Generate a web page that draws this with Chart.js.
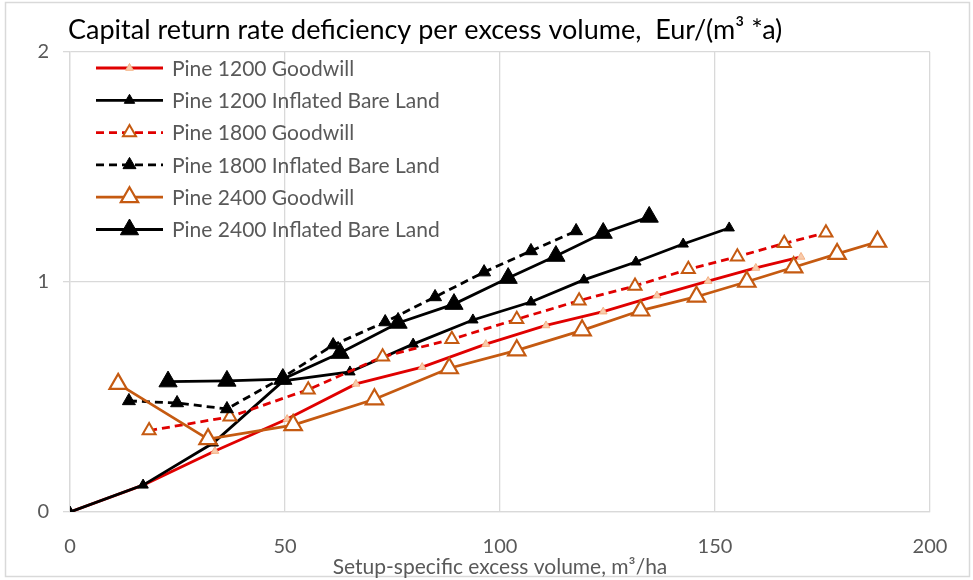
<!DOCTYPE html>
<html>
<head>
<meta charset="utf-8">
<title>Capital return rate deficiency per excess volume</title>
<script src="https://cdn.jsdelivr.net/npm/chart.js@4"></script>
<style>
  html, body { margin: 0; padding: 0; background: #ffffff; }
  #wrap { width: 973px; height: 580px; }
</style>
</head>
<body>
<div id="wrap"><canvas id="chart" width="973" height="580"></canvas></div>
<script>
// Setup-specific excess volume (m³/ha) and deficiency (Eur/(m³·a)) per setup
const pine1200GoodwillX = [0, 17.0, 33.7, 50.5, 66.5, 81.9, 96.7, 110.7, 124.0, 136.5, 148.4, 159.5, 170.0];
const pine1200GoodwillY = [0, 0.117, 0.265, 0.404, 0.557, 0.630, 0.730, 0.811, 0.871, 0.941, 1.004, 1.061, 1.109];

const pine1200BareLandX = [0, 17.0, 33.3, 49.6, 65.1, 79.8, 93.7, 107.2, 119.5, 131.6, 142.6, 153.3];
const pine1200BareLandY = [0, 0.117, 0.300, 0.570, 0.609, 0.730, 0.835, 0.913, 1.009, 1.087, 1.165, 1.235];

const pine1800GoodwillX = [18.4, 37.2, 55.4, 72.7, 88.8, 103.9, 118.4, 131.4, 143.8, 155.2, 166.1, 175.8];
const pine1800GoodwillY = [0.354, 0.414, 0.532, 0.675, 0.751, 0.838, 0.919, 0.983, 1.055, 1.110, 1.168, 1.214];

const pine1800BareLandX = [13.7, 24.9, 36.5, 49.3, 61.2, 73.3, 84.9, 96.3, 107.2, 117.7];
const pine1800BareLandY = [0.483, 0.474, 0.448, 0.583, 0.726, 0.826, 0.935, 1.043, 1.135, 1.222];

const pine2400GoodwillX = [11.2, 32.1, 51.9, 70.8, 88.2, 103.9, 119.1, 132.7, 145.7, 157.4, 168.3, 178.4, 187.8];
const pine2400GoodwillY = [0.557, 0.317, 0.378, 0.490, 0.625, 0.703, 0.790, 0.876, 0.936, 1.001, 1.064, 1.122, 1.175];

const pine2400BareLandX = [22.8, 36.5, 49.5, 62.8, 76.3, 89.3, 101.9, 113.0, 124.0, 134.7];
const pine2400BareLandY = [0.567, 0.570, 0.578, 0.691, 0.822, 0.904, 1.017, 1.113, 1.213, 1.283];

const seriesNames = [
  'Pine 1200 Goodwill',
  'Pine 1200 Inflated Bare Land',
  'Pine 1800 Goodwill',
  'Pine 1800 Inflated Bare Land',
  'Pine 2400 Goodwill',
  'Pine 2400 Inflated Bare Land'
];

const xTicks = [0, 50, 100, 150, 200];
const yTicks = [0, 1, 2];

const titleText = 'Capital return rate deficiency per excess volume,  Eur/(m\u00B3 *a)';
const xAxisTitle = 'Setup-specific excess volume, m\u00B3/ha';

const FONT = 'Lato, "Open Sans", "Noto Sans", sans-serif';
const GREY_TEXT = '#595959';
const GRID = '#d9d9d9';

function pairs(xs, ys) {
  return xs.map((x, i) => ({ x: x, y: ys[i] }));
}

const styles = [
  { color: '#e00000', dash: [], fill: '#f8cbad', edge: '#f4b183', r: 4.5, bw: 1 },
  { color: '#000000', dash: [], fill: '#000000', edge: '#000000', r: 6, bw: 1 },
  { color: '#e00000', dash: [8, 5], fill: '#ffffff', edge: '#c55a11', r: 7.5, bw: 2 },
  { color: '#000000', dash: [8, 5], fill: '#000000', edge: '#000000', r: 7.5, bw: 1 },
  { color: '#c55a11', dash: [], fill: '#ffffff', edge: '#c55a11', r: 10, bw: 2.2 },
  { color: '#000000', dash: [], fill: '#000000', edge: '#000000', r: 10.5, bw: 1 }
];

const seriesData = [
  pairs(pine1200GoodwillX, pine1200GoodwillY),
  pairs(pine1200BareLandX, pine1200BareLandY),
  pairs(pine1800GoodwillX, pine1800GoodwillY),
  pairs(pine1800BareLandX, pine1800BareLandY),
  pairs(pine2400GoodwillX, pine2400GoodwillY),
  pairs(pine2400BareLandX, pine2400BareLandY)
];

const datasets = seriesData.map((pts, i) => ({
  label: seriesNames[i],
  data: pts,
  showLine: true,
  tension: 0,
  borderColor: styles[i].color,
  borderWidth: 2.8,
  borderDash: styles[i].dash,
  pointStyle: 'triangle',
  pointRadius: styles[i].r,
  pointHoverRadius: styles[i].r,
  pointBackgroundColor: styles[i].fill,
  pointBorderColor: styles[i].edge,
  pointBorderWidth: styles[i].bw,
  order: seriesNames.length - i
}));

// Outer frame and chart title
const framePlugin = {
  id: 'frame',
  beforeDraw(chart) {
    const ctx = chart.ctx;
    ctx.save();
    ctx.fillStyle = '#ffffff';
    ctx.fillRect(0, 0, chart.width, chart.height);
    ctx.strokeStyle = GRID;
    ctx.lineWidth = 1.5;
    ctx.strokeRect(5.5, 2.5, 964, 574);
    ctx.fillStyle = '#000000';
    ctx.font = '27px ' + FONT;
    ctx.textAlign = 'left';
    ctx.textBaseline = 'middle';
    ctx.fillText(titleText, 68, 30);
    ctx.restore();
  }
};

// Legend with line samples and markers, drawn inside the plot area
const legendPlugin = {
  id: 'lineLegend',
  afterDatasetsDraw(chart) {
    const ctx = chart.ctx;
    const x0 = 96, x1 = 163, tx = 172, y0 = 68, step = 32.3;
    chart.data.datasets.forEach((ds, i) => {
      const y = y0 + i * step;
      ctx.save();
      ctx.strokeStyle = ds.borderColor;
      ctx.lineWidth = ds.borderWidth;
      ctx.setLineDash(ds.borderDash);
      ctx.beginPath();
      ctx.moveTo(x0, y);
      ctx.lineTo(x1, y);
      ctx.stroke();
      ctx.setLineDash([]);
      ctx.fillStyle = ds.pointBackgroundColor;
      ctx.strokeStyle = ds.pointBorderColor;
      ctx.lineWidth = ds.pointBorderWidth;
      Chart.helpers.drawPoint(ctx, {
        pointStyle: 'triangle',
        rotation: 0,
        radius: ds.pointRadius,
        borderWidth: ds.pointBorderWidth
      }, (x0 + x1) / 2, y);
      ctx.fillStyle = GREY_TEXT;
      ctx.font = '21px ' + FONT;
      ctx.textAlign = 'left';
      ctx.textBaseline = 'middle';
      ctx.fillText(ds.label, tx, y + 1);
      ctx.restore();
    });
  }
};

new Chart(document.getElementById('chart'), {
  type: 'scatter',
  data: { datasets: datasets },
  options: {
    responsive: false,
    animation: false,
    devicePixelRatio: 1,
    layout: { padding: { left: 0, top: 52, right: 43, bottom: 0 } },
    plugins: {
      legend: { display: false },
      title: { display: false },
      tooltip: { enabled: false }
    },
    scales: {
      x: {
        type: 'linear',
        min: 0,
        max: 200,
        afterBuildTicks(scale) { scale.ticks = xTicks.map(v => ({ value: v })); },
        afterFit(scale) { scale.height = 68; },
        grid: { color: GRID, lineWidth: 1.3, drawTicks: false },
        border: { color: GRID, width: 1.3 },
        ticks: {
          color: GREY_TEXT,
          font: { family: FONT, size: 20 },
          padding: 23,
          maxRotation: 0
        },
        title: {
          display: true,
          text: xAxisTitle,
          color: GREY_TEXT,
          font: { family: FONT, size: 21 },
          padding: { top: 0, bottom: 0 }
        }
      },
      y: {
        type: 'linear',
        min: 0,
        max: 2,
        afterBuildTicks(scale) { scale.ticks = yTicks.map(v => ({ value: v })); },
        afterFit(scale) { scale.width = 70; },
        grid: { color: GRID, lineWidth: 1.3, tickLength: 7, tickColor: GRID },
        border: { color: GRID, width: 1.3 },
        ticks: {
          color: GREY_TEXT,
          font: { family: FONT, size: 20 },
          padding: 14
        }
      }
    }
  },
  plugins: [framePlugin, legendPlugin]
});
</script>
</body>
</html>
